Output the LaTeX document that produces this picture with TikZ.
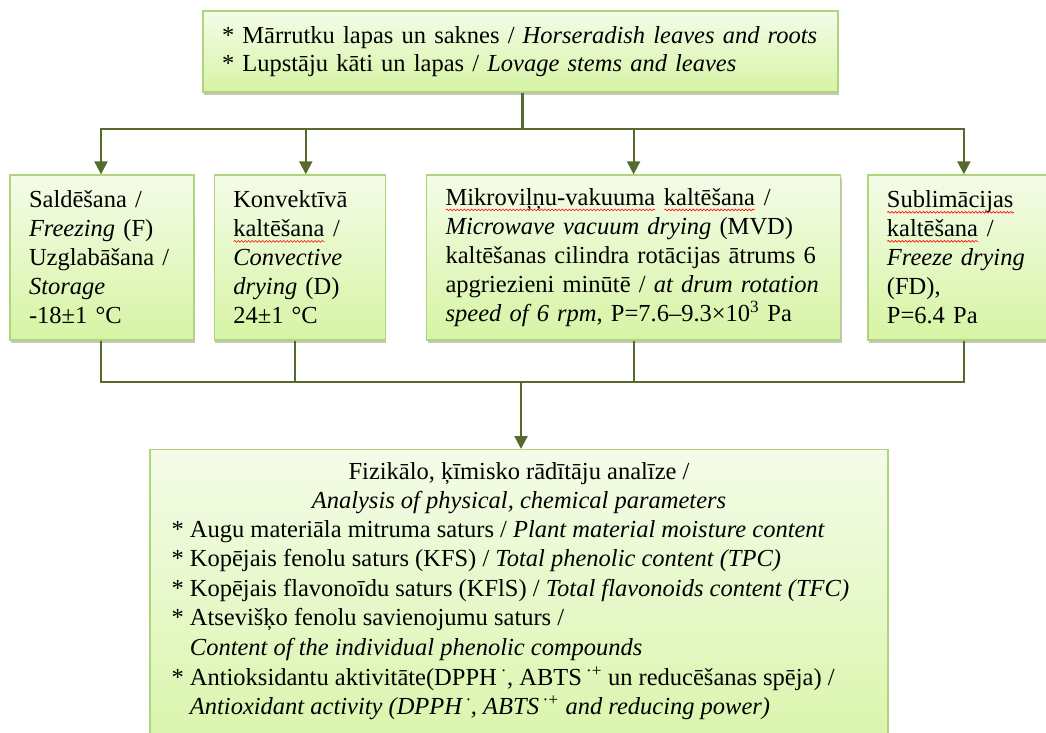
\documentclass[tikz,border=0pt]{standalone}
\usepackage{fontspec}
\setmainfont{Liberation Serif}
\usepackage{xcolor}
\usepackage{tikz}
\usetikzlibrary{arrows.meta, positioning, shadows, decorations.pathmorphing}
\definecolor{boxedge}{HTML}{AFD47C}
\definecolor{boxtop}{HTML}{F4FCE8}
\definecolor{boxbottom}{HTML}{D6F4A4}
\definecolor{linkgreen}{HTML}{566A2E}
\tikzstyle{link} = [draw=linkgreen, line width=2.2pt]
\tikzstyle{link-arrow} = [link, -{Triangle[length=13pt, width=13pt]}]
\tikzstyle{stage} = [rectangle, draw=boxedge, line width=1.3pt, top color=boxtop, bottom color=boxbottom, drop shadow={shadow xshift=1pt, shadow yshift=-3pt, fill=black!45}, inner xsep=19pt, align=left, font=\fontsize{24.5}{29}\selectfont]
\tikzstyle{spell-wave} = [draw=red, line width=0.6pt, decorate, decoration={snake, amplitude=0.9pt, segment length=3.5pt}]
\newsavebox\spellbox
\newcommand*\spellmark[1]{\leavevmode\sbox\spellbox{#1}\rlap{\usebox\spellbox}\tikz[baseline=0pt, x=1pt, y=1pt]{\draw[spell-wave] (0,-4.5) -- (\wd\spellbox,-4.5);}}

\begin{document}
\begin{tikzpicture}[x=1pt, y=1pt]

  \useasboundingbox (0,0) rectangle (1046,-733);
  \clip (0,0) rectangle (1046,-733);

  % Plant material
  \node (plants) [stage, text width=597pt, minimum height=81pt, font=\fontsize{24.5}{28}\selectfont] at (520.5,-51.5)
    {{*} Mārrutku lapas un saknes / \textit{Horseradish leaves and roots}\\
     {*} Lupstāju kāti un lapas / \textit{Lovage stems and leaves}};

  % Treatments
  \node (freezing) [stage, text width=146pt, minimum height=165pt] at (102,-257.5)
    {Saldēšana /\\ \textit{Freezing} (F)\\ Uzglabāšana /\\ \textit{Storage}\\ -18±1 °C};
  \node (convective) [stage, text width=133pt, minimum height=165pt, right=19pt of freezing]
    {Konvektīvā\\ \spellmark{kaltēšana} /\\ \textit{Convective}\\ \textit{drying} (D)\\ 24±1 °C};
  \node (microwave) [stage, text width=376pt, minimum height=165pt, right=40pt of convective]
    {\spellmark{Mikroviļņu-vakuuma} \spellmark{kaltēšana} /\\
     \textit{Microwave vacuum drying} (MVD)\\
     kaltēšanas cilindra rotācijas ātrums 6\\
     apgriezieni minūtē / \textit{at drum rotation}\\
     \textit{speed of 6 rpm}, P=7.6--9.3×10\textsuperscript{3} Pa};
  \node (freezedry) [stage, text width=154pt, minimum height=165pt, right=26pt of microwave]
    {\spellmark{Sublimācijas}\\ \spellmark{kaltēšana} /\\ \textit{Freeze drying}\\ (FD),\\ P=6.4 Pa};

  % Analysis
  \node (analysis) [stage, minimum width=738pt, minimum height=330pt, anchor=north] at (519,-449) {};
  \node (analysistitle) [anchor=north, inner sep=0pt, align=center, font=\fontsize{24.5}{29.3}\selectfont] at ([yshift=-13pt]analysis.north)
    {Fizikālo, ķīmisko rādītāju analīze /\\ \textit{Analysis of physical, chemical parameters}};
  \node (analysislist) [anchor=north west, inner sep=0pt, align=left, font=\fontsize{24.5}{29.6}\selectfont] at ([xshift=22pt, yshift=-6pt]analysis.west |- analysistitle.south)
    {{*} Augu materiāla mitruma saturs / \textit{Plant material moisture content}\\
     {*} Kopējais fenolu saturs (KFS) / \textit{Total phenolic content (TPC)}\\
     {*} Kopējais flavonoīdu saturs (KFlS) / \textit{Total flavonoids content (TFC)}\\
     {*} Atsevišķo fenolu savienojumu saturs /\\
     \hphantom{* }\textit{Content of the individual phenolic compounds}\\
     {*} Antioksidantu aktivitāte(DPPH\,\textsuperscript{·}, ABTS\,\textsuperscript{·+} un reducēšanas spēja) /\\
     \hphantom{* }\textit{Antioxidant activity (DPPH\,\textsuperscript{·}, ABTS\,\textsuperscript{·+} and reducing power)}};

  % Arrows from plant material
  \draw[link] ([xshift=2pt]plants.south) -- ++(0,-36) coordinate (split);
  \draw[link-arrow] (split) -| ([xshift=-1pt]freezing.north);
  \draw[link-arrow] (split) -| ([xshift=6pt]convective.north);
  \draw[link-arrow] (split) -| (microwave.north);
  \draw[link-arrow] (split) -| (freezedry.north);

  % Arrows to analysis
  \coordinate (merge) at (521,-382);
  \draw[link] ([xshift=-1pt]freezing.south) |- (merge);
  \draw[link] ([xshift=-5pt]convective.south) |- (merge);
  \draw[link] (microwave.south) |- (merge);
  \draw[link] (freezedry.south) |- (merge);
  \draw[link-arrow] (merge) -- (merge |- analysis.north);

\end{tikzpicture}
\end{document}
